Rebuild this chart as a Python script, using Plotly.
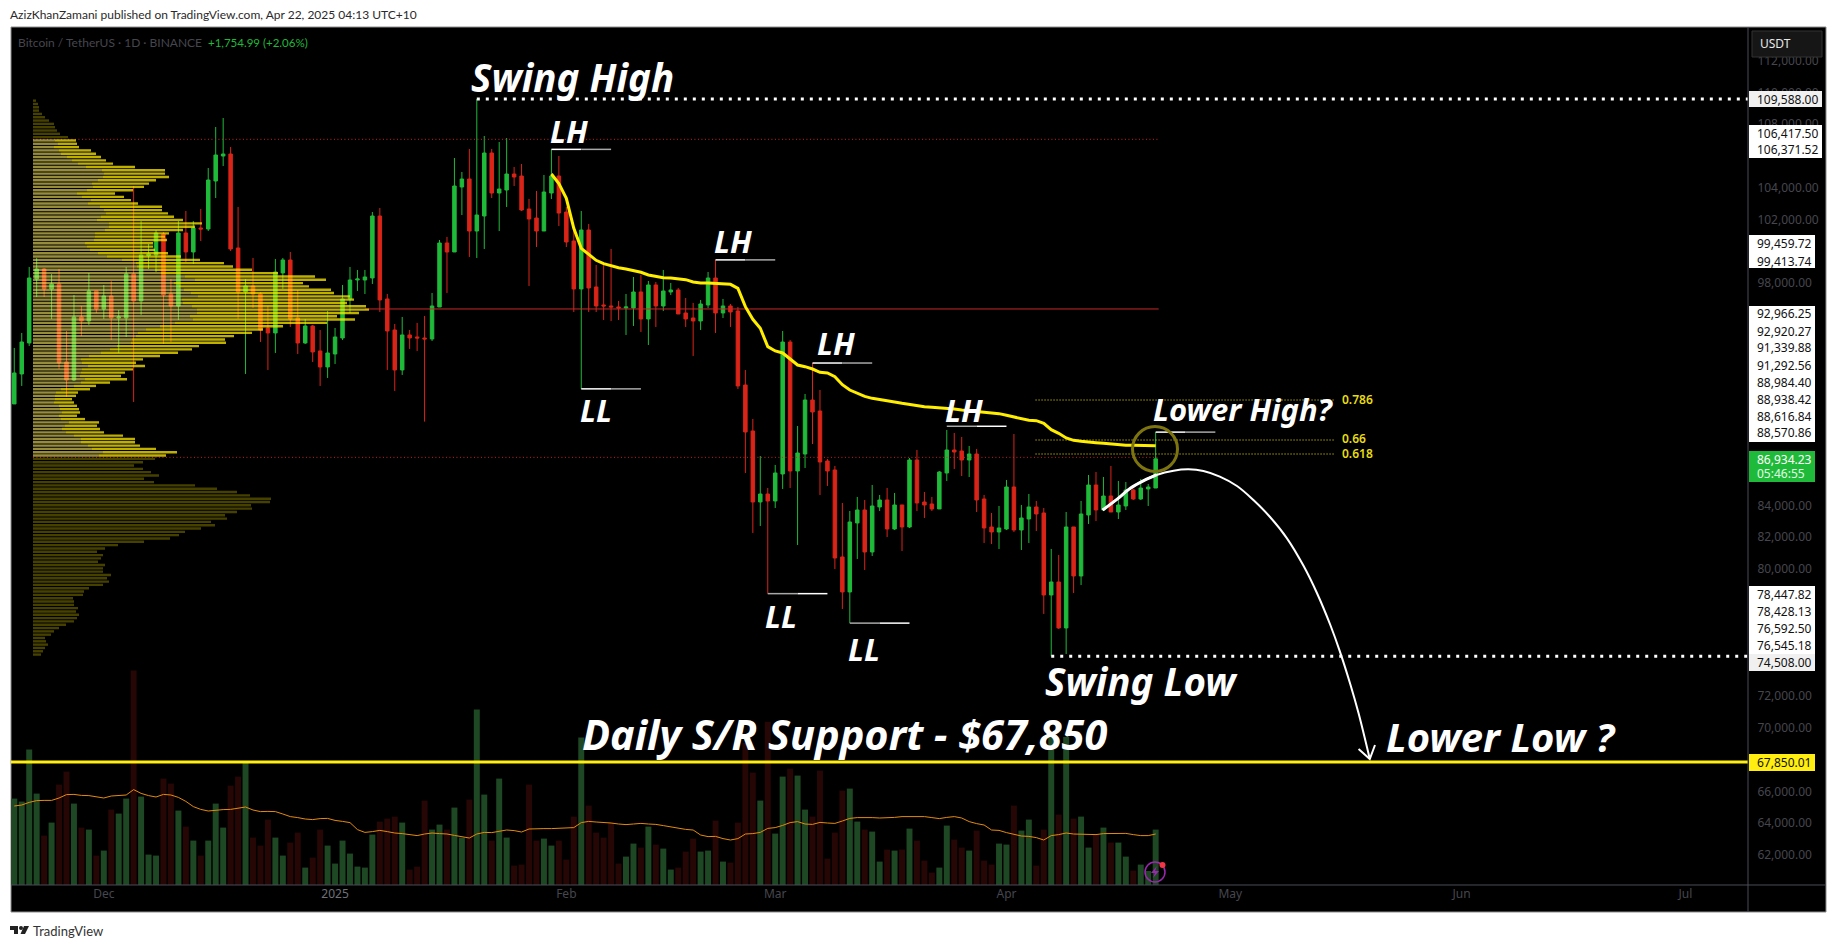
import pandas as pd
import plotly.graph_objects as go

W, H = 1836, 948

# ---- daily BTCUSDT candles ----
first_day = "2024-11-19"
open_ = [90390,92278,94229,98257,98887,97628,97943,93033,91900,95866,95614,97502,96369,97187,95803,95803,98572,96873,99726,99768,
101090,97313,96558,101153,99957,101467,101404,104425,105999,106125,100209,97439,97817,97313,95173,94859,98635,99453,95803,94229,
95299,93726,92719,93537,94544,96999,98194,98194,98320,102223,96999,95047,92530,94733,94607,94544,94481,96495,100523,99957,
104048,104551,101278,102223,106188,103670,103859,104866,104740,102663,102097,101278,103670,104740,102474,100649,97628,101341,97754,96621,
96558,96495,96432,96432,97439,95740,97880,96558,97439,97565,96117,95803,95614,96621,98320,96117,96558,96243,91583,88688,
84219,84722,84282,85981,94289,86170,87240,90639,89946,86799,86233,80757,78554,82897,83715,81072,83904,84345,82520,84030,
82645,86862,84219,84093,83778,86044,87492,87429,86862,87240,84408,82645,82331,82520,85163,82457,83149,83904,83527,78365,
79183,76288,82645,79561,83400,85288,83715,84596,83589,83967,84974,84407,85037,85099]
high = [93915,94859,99013,99579,98950,98572,98887,94984,97250,96558,98635,97502,97880,98131,96306,99013,104111,101908,100460,101341,
101216,98257,101908,102537,101908,102663,105244,107824,108391,106565,102789,98257,99579,97439,96558,99516,99579,99957,97565,95740,
95362,95047,96243,95173,97880,99013,98824,98824,102474,102726,97313,95425,95866,95047,95488,95929,97376,100712,100901,105873,
104992,106440,109588,107258,106440,106880,107132,105307,105495,103293,103796,104803,106417,105999,102789,101467,102537,101719,99138,99138,
100146,96873,97313,98383,98509,98131,98069,98824,98006,97691,97061,96747,96936,98698,99460,96999,96684,96495,92527,89443,
87114,85100,86548,94982,94415,89002,91016,92966,91268,86925,86485,84156,83652,84534,84345,85289,84659,85100,84785,84030,
86988,87492,84848,84534,86170,88751,88562,88310,87744,87555,84659,83527,83967,85604,88499,84030,84722,84282,83841,81260,
80882,83589,82645,84281,85918,86107,85792,86484,85540,85477,85037,85666,85351,88617]
low = [90390,91523,94040,97124,97124,95740,92593,90830,91837,94670,95362,96117,95740,94418,93600,94607,90516,95991,98887,98698,
94166,94292,95677,99327,99201,100649,101278,103355,105370,100020,95740,92278,96432,94292,92530,93600,97628,95236,93537,94166,
93033,91523,92026,92907,94418,96117,97502,97313,97943,96180,92530,91208,92215,93852,93726,89278,94355,96495,97376,99957,
102285,99642,99579,100146,103355,101278,102789,104111,102537,97817,100271,101278,103293,101593,100271,96180,91340,96180,96180,95677,
95614,95677,94733,95299,94922,94103,95236,96243,97250,96054,95236,93411,95047,96432,94859,95803,95236,91334,86044,82268,
82708,78448,83841,85037,85100,81512,86359,87869,84659,85226,80002,77484,76592,80631,79939,80820,83652,82016,82457,81135,
82582,83652,83212,83652,83778,85541,86296,85855,85792,83590,81638,81575,81261,82457,82331,81198,81638,82394,77170,74508,
76225,74651,78491,78994,82834,83022,83652,83589,83148,83715,84344,84344,83967,85099]
close = [92341,94292,98320,98887,97628,97943,92970,91900,95866,95614,97502,96369,97187,95803,95866,98572,96873,99768,99831,101153,
97250,96558,101153,99957,101467,101404,104488,106062,106125,100146,97439,97817,97313,95047,94859,98698,99453,95740,94229,95299,
93663,92719,93600,94607,96999,98194,98257,98383,102223,96936,94984,92530,94733,94544,94544,94481,96558,100523,99957,104111,
104551,101278,102285,106188,103670,103922,104866,104677,102600,102034,101278,103733,104740,102411,100586,97628,101341,97691,96558,96558,
96495,96432,96495,97439,95740,97880,96558,97502,97565,96054,95740,95614,96684,98320,96117,96558,96180,91523,88625,84219,
84722,84282,86044,94289,86170,87303,90639,89884,86737,86170,80694,78554,82960,83715,81072,83967,84345,82520,84030,82645,
86862,84156,84030,83778,86107,87492,87366,86862,87240,84345,82582,82331,82582,85163,82457,83212,83904,83464,78365,79183,
76288,82645,79561,83463,85288,83715,84596,83589,84029,84974,84407,85099,85162,86934]

# ---- volume (thousand BTC) and its moving average ----
volume = [43.2,41.7,67.7,45.7,24.7,31.2,50.2,56.7,40.7,28.7,27.7,14.7,17.2,37.7,35.7,43.2,107.2,44.2,15.2,14.7,
53.2,50.7,37.2,29.2,22.2,14.7,22.2,40.7,28.7,49.7,54.2,61,23.7,19.7,32.7,23.7,14.7,21.2,26.2,8.7,
13.7,27.7,19.7,10.7,22.2,15.7,9.2,8.7,25.2,31.7,33.2,34.2,31.2,7.7,9.2,42.2,27.7,30.2,27.7,38.7,
23.7,42.7,87.7,45.2,22.2,53.2,23.7,9.7,10.2,50.2,22.2,23.2,19.7,22.2,12.7,34.2,73.7,39.7,26.2,
23.7,31,10.7,14.2,20.7,18.7,29.2,20.2,18.2,7.7,8.7,16.7,23.2,16.7,17.2,32.2,11.7,11.2,31.2,71,
56.2,42.2,81.6,25.7,54.2,58.2,54.7,37.7,34.2,57.2,13.2,26.2,47.2,48.2,31.7,27.7,26.7,11.7,17.7,17.2,
17.7,28.2,22.2,12.2,6.2,8.7,29.7,22.7,18.7,17.2,27.2,12.2,10.2,20.7,20.2,39.7,27.2,32.7,9.7,27.7,
75,35.2,74,33.2,34.2,18.7,25.2,28.7,21.2,21.2,14.2,7.2,10.2,7,27.7]
volume_ma = [39.5,40,41.3,42.2,42.3,42.3,43.5,45.2,45.3,44.8,44.7,44.2,43.5,44.5,44.7,45,47.7,45.8,44.7,44,
45.3,45,43.8,41.8,39.2,37.8,37,37.5,37.7,37.8,38.3,39,37.5,36.7,36.8,36.7,35.5,34.2,33.7,33,
32.7,33.2,33.3,32.3,31.8,31.2,27.7,26.3,26.7,27.3,26.7,26,25.7,25.2,24.7,25.5,26,25.7,25.5,24.8,
24,23.5,25.5,26.3,26.2,27,27.5,27.2,26.5,28,28.2,28.2,28.2,28.3,28.3,28.7,31.2,31.8,31.5,
31.3,31,30.5,30.2,30.5,30.8,30.5,30.3,29.7,29,28.2,27.8,27.5,25,24.2,24.3,23.2,22.5,23.2,25.5,
25.7,26.3,28.3,28.7,29.8,31.2,31.7,30.5,30.3,31.3,31,30.8,32,33.3,33.7,33.8,33.7,33.5,33.5,33.8,
34.2,34.3,34.3,34.2,33.7,33.2,33.8,34.2,33.5,31.7,30.7,30,27.5,27.3,26.2,25.5,24.5,24.3,23.7,22.5,
24.7,25.2,26,25.5,25.3,25.2,25.2,25.7,25.8,25.8,25.8,25.2,24.7,24.7,25.5]

# ---- anchored VWAP (yellow), anchored on the bar 72 ----
vwap_first_bar = 72
vwap = [104866,104257,103334,101446,100188,99831,99432,99223,99076,98970,98887,98803,98677,98509,98404,98341,98320,98278,98215,98068,
98005,98005,97984,97963,97921,97670,96516,95719,95153,93999,93726,93600,93222,92842,92737,92590,92380,92338,92107,91604,
91268,91058,90870,90744,90681,90618,90513,90429,90345,90261,90219,90177,90156,90114,90072,90010,89967,89946,89904,89842,
89779,89674,89569,89464,89359,89338,89170,88772,88541,88247,88100,88037,88016,87953,87911,87869,87806,87790,87785,87775,87770,87765]

# ---- visible-range volume profile: 168 rows between swing high and swing low ----
vp_top, vp_bottom = 109588.0, 74508.0
vp_dim_top = [9,15,18,18,27,36,48,63,66,72,81,105]
vp_up = [66,75,63,78,84,102,117,135,159,207,213,210,195,177,180,162,132,147,174,165,201,213,219,204,192,228,228,216,186,186,183,156,162,171,195,222,
267,309,312,366,384,456,486,423,438,453,474,495,447,450,477,492,492,471,480,426,381,339,315,309,297,294,252,231,204,168,144,147,165,147,144,141,156,144,123,84,69,66,66,63,78,81,87,78,84,
108,96,87,99,123,144,144,165,177,210,198]
vp_total = [129,132,138,174,189,204,219,240,306,396,396,408,369,348,333,300,246,273,294,315,387,387,405,423,450,507,486,450,408,396,402,360,360,366,405,444,
501,573,600,657,735,846,879,810,828,894,903,951,963,942,999,1008,978,912,966,882,750,690,657,603,576,579,498,477,435,381,330,309,336,300,276,264,282,231,189,171,135,129,117,123,132,138,141,132,156,
198,192,201,213,270,306,306,321,369,432,399]
vp_dim_bottom = [366,330,303,330,354,378,333,363,486,552,612,651,714,711,654,657,612,576,582,534,546,504,456,438,411,333,255,216,192,210,204,195,216,210,210,234,222,228,210,168,153,150,120,123,123,135,129,138,132,123,99,78,63,54,36,39,45,36,30,24]

# ---- levels ----
swing_high, swing_low, support = 109588.00, 74508.00, 67850.01
poc, va_high, va_low = 96370, 107050, 87030
fib_levels = [90638, 88120, 87239]
fib_names = ["0.786", "0.66", "0.618"]
pivot_bars = [72, 94, 76, 107, 101, 125, 112, 153]
pivot_prices = [106417.50, 99459.72, 91339.88, 92966.25, 78447.82, 88984.40, 76592.50, 88616.84]

# hand-drawn forecast curve: bar offset and price
curve_bar = [145.9,147.8,149.6,151.4,153.1,155.4,157.4,159.4,161.6,163.9,166.1,168.3,170.6,172.8,174.6,176.4,177.7,179.1,180.2,181.7]
curve_price = [83715,84386,85078,85561,85918,86190,86274,86170,85813,85225,84345,83289,81932,80216,78506,76490,74800,72728,70913,68039]

# labels hidden behind the price tags are left out
y_tick_values = [62000,64000,66000,70000,72000,80000,82000,84000,86000,98000,102000,104000,108000,110000,112000]
x_tick_dates = ["2024-12-01","2025-01-01","2025-02-01","2025-03-01","2025-04-01","2025-05-01","2025-06-01","2025-07-01"]
x_tick_text = ["Dec","<span style='color:#6f7078'>2025</span>","Feb","Mar","Apr","May","Jun","Jul"]

# ---- layout geometry (pixels) ----
L, R, T, B = 11, 1748, 27, 885       # plot area
AX_R, AX_B = 1826, 912               # frame incl. axes
VOL_PX = 2.0                         # pixels per thousand BTC
PX_PER_USD = 0.015885
Y_SUP = 762
FONT = "Noto Sans"

def px(x): return x / W
def py(y): return 1 - y / H

start = pd.Timestamp(first_day)
def day(i): return start + pd.to_timedelta(i, unit="D")

dates = [day(i) for i in range(len(close))]
x_range = [day(-0.44), day(232.4)]
y_range = [support - (B - Y_SUP) / PX_PER_USD, support + (Y_SUP - T) / PX_PER_USD]

GREEN, RED = "#1fba39", "#d92418"
fig = go.Figure()

# volume
vol_colors = ["#1e4723" if c >= o else "#270606" for o, c in zip(open_, close)]
fig.add_trace(go.Bar(x=dates, y=volume, width=0.8 * 86400000, marker=dict(color=vol_colors, line_width=0),
                     xaxis="x", yaxis="y", hoverinfo="skip"))
fig.add_trace(go.Scatter(x=dates, y=volume_ma, mode="lines", line=dict(color="#e58a0c", width=1),
                         xaxis="x", yaxis="y", hoverinfo="skip"))

# profile lines under candles
def level(x0, x1, y, color, width, dash="solid"):
    fig.add_trace(go.Scatter(x=[x0, x1], y=[y, y], mode="lines", line=dict(color=color, width=width, dash=dash),
                             xaxis="x", yaxis="y2", hoverinfo="skip"))

level(day(2.5), day(153.4), va_high, "#c82828", 1, "1px,2.5px")
level(day(2.5), day(153.4), va_low, "#c82828", 1, "1px,2.5px")
level(day(47), day(153.4), poc, "#c82828", 1)

# candles
fig.add_trace(go.Candlestick(x=dates, open=open_, high=high, low=low, close=close, whiskerwidth=0,
    increasing=dict(fillcolor=GREEN, line=dict(color=GREEN, width=1)),
    decreasing=dict(fillcolor=RED, line=dict(color=RED, width=1)),
    xaxis="x", yaxis="y2", hoverinfo="skip"))

# VWAP
fig.add_trace(go.Scatter(x=dates[vwap_first_bar:], y=vwap, mode="lines", line=dict(color="#ffee00", width=3),
                         xaxis="x", yaxis="y2", hoverinfo="skip"))

# fib lines
for p in fib_levels:
    level(day(136.9), day(176.9), p, "#ffee00", 1, "1px,2px")

# swing + support
level(dates[62], x_range[1], swing_high, "#ffffff", 3, "3px,6px")
level(dates[139], x_range[1], swing_low, "#ffffff", 3, "3px,6px")
level(x_range[0], x_range[1], support, "#ffee10", 3)

# pivots
for b, p in zip(pivot_bars, pivot_prices):
    rev = b in (101, 125, 112)
    level(day(b), day(b + 4), p, "#a8a8a8" if rev else "#ffffff", 1.5)
    level(day(b + 4), day(b + 8), p, "#ffffff" if rev else "#a8a8a8", 1.5)

# forecast curve + head
fig.add_trace(go.Scatter(x=[day(i) for i in curve_bar], y=curve_price, mode="lines",
                         line=dict(color="#ffffff", width=2, shape="spline"),
                         xaxis="x", yaxis="y2", hoverinfo="skip"))
fig.add_trace(go.Scatter(x=[day(i) for i in curve_bar[:5]], y=curve_price[:5], mode="lines",
                         line=dict(color="#ffffff", width=3, shape="spline"),
                         xaxis="x", yaxis="y2", hoverinfo="skip"))
head_bar = [180.2, 181.7, 182.4]
head_price = [68668, 68039, 68920]
fig.add_trace(go.Scatter(x=[day(i) for i in head_bar], y=head_price, mode="lines",
                         line=dict(color="#ffffff", width=2),
                         xaxis="x", yaxis="y2", hoverinfo="skip"))

# volume profile on its own x scale (3 units = 1 pixel)
n_rows = len(vp_dim_top) + len(vp_up) + len(vp_dim_bottom)
step = (vp_top - vp_bottom) / n_rows
row_price = [vp_top - (k + 0.5) * step for k in range(n_rows)]
n1, n2 = len(vp_dim_top), len(vp_dim_top) + len(vp_up)
row_w = step * 0.72
dim_p = row_price[:n1] + row_price[n2:]
fig.add_trace(go.Bar(y=dim_p, x=vp_dim_top + vp_dim_bottom, orientation="h", width=row_w,
                     marker=dict(color="rgba(255,235,0,0.28)", line_width=0), xaxis="x2", yaxis="y2", hoverinfo="skip"))
fig.add_trace(go.Bar(y=row_price[n1:n2], x=vp_up, orientation="h", width=row_w,
                     marker=dict(color="rgba(250,233,100,0.60)", line_width=0), xaxis="x2", yaxis="y2", hoverinfo="skip"))
fig.add_trace(go.Bar(y=row_price[n1:n2], x=[t - u for t, u in zip(vp_total, vp_up)], base=vp_up, orientation="h", width=row_w,
                     marker=dict(color="rgba(253,233,0,0.75)", line_width=0), xaxis="x2", yaxis="y2", hoverinfo="skip"))

# ---- page furniture ----
shapes, annotations = [], []

def rect(x0, y0, x1, y1, fill=None, line=None, lw=1, layer="above"):
    shapes.append(dict(type="rect", xref="paper", yref="paper", x0=px(x0), x1=px(x1), y0=py(y0), y1=py(y1),
                       fillcolor=fill or "rgba(0,0,0,0)", line=dict(color=line or "rgba(0,0,0,0)", width=lw if line else 0), layer=layer))

def poly(points, fill=None, line=None, lw=1, closed=True):
    d = "M" + " L".join(f"{px(a):.5f},{py(b):.5f}" for a, b in points) + (" Z" if closed else "")
    shapes.append(dict(type="path", xref="paper", yref="paper", path=d, fillcolor=fill or "rgba(0,0,0,0)",
                       line=dict(color=line or "rgba(0,0,0,0)", width=lw if line else 0), layer="above"))

def circle(cx, cy, r, fill=None, line=None, lw=1):
    shapes.append(dict(type="circle", xref="paper", yref="paper", x0=px(cx - r), x1=px(cx + r), y0=py(cy - r), y1=py(cy + r),
                       fillcolor=fill or "rgba(0,0,0,0)", line=dict(color=line or "rgba(0,0,0,0)", width=lw if line else 0), layer="above"))

def text(s, x, y, size=12, color="#000000", anchor="center", family=FONT, weight=400, style="normal"):
    annotations.append(dict(text=s, xref="paper", yref="paper", x=px(x), y=py(y), xanchor=anchor, yanchor="middle",
                            showarrow=False, align=anchor if anchor != "center" else "center",
                            font=dict(family=family, size=size, color=color, weight=weight, style=style),
                            borderpad=0, borderwidth=0))

# frame
rect(L, T, AX_R, AX_B, fill="#000000", line="#8c8c8c", lw=1, layer="below")
poly([(R, T), (R, AX_B)], line="#4a4c58", lw=1, closed=False)
poly([(L, B), (AX_R, B)], line="#4a4c58", lw=1, closed=False)

# header / watermark
text("AzizKhanZamani published on TradingView.com, Apr 22, 2025 04:13 UTC+10", 10, 14, 12, "#2a2a2a", "left", "Lato")
text("Bitcoin / TetherUS · 1D · BINANCE", 18, 42, 12, "#46464e", "left", "Lato")
text("+1,754.99 (+2.06%)", 208, 42, 11.5, GREEN, "left", "Lato")
text("TradingView", 33, 931, 13, "#333333", "left", "Lato")
poly([(10, 926), (18, 926), (18, 934), (14, 934), (14, 930), (10, 930)], fill="#222222")
circle(21, 928, 2, fill="#222222")
poly([(24, 926), (29, 926), (25, 934), (20.5, 934)], fill="#222222")

# USDT button
rect(1752, 31, 1822, 57, fill="#161616", line="#333333")
text("USDT", 1775, 44, 12, "#e8e8e8", "center")

# price axis tags
rect(R + 1, 91, 1822, 107, fill="#f0f0f0")
text("109,588.00", 1757, 99, 12, "#111111", "left")
rect(R + 1, 125, 1822, 158, fill="#ffffff")
for s, y in [("106,417.50", 133), ("106,371.52", 150)]:
    text(s, 1757, y, 12, "#111111", "left")
rect(R + 1, 235, 1815, 268, fill="#ffffff")
for s, y in [("99,459.72", 244), ("99,413.74", 261)]:
    text(s, 1757, y, 12, "#111111", "left")
rect(R + 1, 306, 1815, 442, fill="#ffffff")
for s, y in [("92,966.25", 313), ("92,920.27", 331), ("91,339.88", 348), ("91,292.56", 365),
             ("88,984.40", 382), ("88,938.42", 399), ("88,616.84", 416), ("88,570.86", 433)]:
    text(s, 1757, y, 12, "#111111", "left")
rect(R + 1, 451, 1815, 482, fill=GREEN)
text("86,934.23", 1757, 459, 12, "#ffffff", "left")
text("05:46:55", 1757, 473, 12, "#e0ffe6", "left")
rect(R + 1, 586, 1815, 654, fill="#ffffff")
for s, y in [("78,447.82", 594), ("78,428.13", 611), ("76,592.50", 628), ("76,545.18", 645)]:
    text(s, 1757, y, 12, "#111111", "left")
rect(R + 1, 654, 1815, 671, fill="#f0f0f0")
text("74,508.00", 1757, 662, 12, "#111111", "left")
rect(R + 1, 754, 1815, 771, fill="#ffee10")
text("67,850.01", 1757, 762, 12, "#111111", "left")

# ring, lightning badge
circle(1155, 449, 22.5, line="#7d7410", lw=3)
circle(1155, 872, 10, line="#9c27b0", lw=1.5)
poly([(1157, 866), (1151, 873), (1155, 873), (1153, 878), (1159, 871), (1155, 871)], fill="#9c27b0")
circle(1162.5, 865, 3, fill="#f23645")

# big labels
def big(s, x, y, size=34):
    text(s, x, y, size, "#ffffff", "center", FONT, 700, "italic")

big("Swing High", 572, 77, 38.5)
big("LH", 569, 131, 31)
big("LH", 733, 241, 31)
big("LL", 596, 410, 31)
big("LH", 836, 343, 31)
big("LL", 781, 616, 31)
big("LH", 964, 410, 31)
big("LL", 864, 649, 31)
big("Lower High?", 1243, 409, 31)
big("Swing Low", 1141, 681, 38.5)
big("Daily S/R Support - $67,850", 844, 734, 41.5)
big("Lower Low ?", 1501, 736, 40)

for name, y in zip(fib_names, [399, 439, 453]):
    text(name, 1342, y, 12, "#e8dc10", "left", FONT, 600)

common_x = dict(domain=[px(L), px(R)], showgrid=False, zeroline=False)
dom_y = [py(B), py(T)]
fig.update_layout(
    width=W, height=H, autosize=False, margin=dict(l=0, r=0, t=0, b=0, pad=0),
    paper_bgcolor="#ffffff", plot_bgcolor="#000000", showlegend=False, barmode="overlay",
    boxmode="overlay", boxgap=0.33, hovermode=False,
    font=dict(family=FONT, size=12),
    xaxis=dict(type="date", range=x_range, tickmode="array", tickvals=x_tick_dates, ticktext=x_tick_text,
               tickfont=dict(color="#46464e", size=12, family=FONT), ticks="", anchor="y",
               rangeslider=dict(visible=False), showline=False, fixedrange=True, **common_x),
    xaxis2=dict(range=[(L - 33) * 3, (R - 33) * 3], overlaying="x", visible=False, anchor="y", fixedrange=True, **common_x),
    yaxis=dict(domain=dom_y, range=[0, (B - T) / VOL_PX], visible=False, showgrid=False, zeroline=False, fixedrange=True),
    yaxis2=dict(domain=dom_y, range=y_range, overlaying="y", side="right", anchor="x", tickmode="array",
                tickvals=y_tick_values, ticktext=[f"{v:,.2f}" for v in y_tick_values],
                tickfont=dict(color="#46464e", size=12, family=FONT), ticks="outside", ticklen=6, tickcolor="rgba(0,0,0,0)",
                showgrid=False, zeroline=False, showline=False, fixedrange=True),
    shapes=shapes, annotations=annotations,
)

fig.write_html("out.html", config={"displayModeBar": False}, default_width=W, default_height=H,
               post_script="document.body.style.margin='0';document.documentElement.style.overflow='hidden';")
